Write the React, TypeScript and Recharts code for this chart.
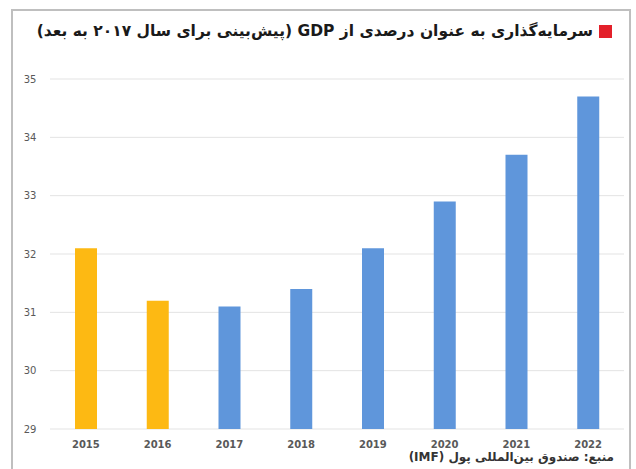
import { BarChart, Bar, XAxis, YAxis, CartesianGrid, Cell } from "recharts";

const years = ["2015", "2016", "2017", "2018", "2019", "2020", "2021", "2022"];
const investment = [32.1, 31.2, 31.1, 31.4, 32.1, 32.9, 33.7, 34.7];
const yTicks = [29, 30, 31, 32, 33, 34, 35];
const forecastFrom = 2017;

const data = years.map((year, i) => ({ year, value: investment[i] }));

const ORANGE = "#FDB913";
const BLUE = "#5F96DB";

export default function App() {
  return (
    <div
      style={{
        position: "absolute",
        left: 0,
        top: 0,
        width: 636,
        height: 469,
        background: "#fff",
        overflow: "hidden",
      }}
    >
      <div
        style={{
          position: "absolute",
          left: 11,
          top: 9,
          width: 620,
          height: 470,
          border: "2px solid #BFBFBF",
          boxSizing: "border-box",
        }}
      />
      <div
        style={{
          position: "absolute",
          right: 24,
          top: 22,
          direction: "rtl",
          display: "flex",
          alignItems: "center",
          gap: 6,
          fontFamily: "'DejaVu Sans', sans-serif",
          fontWeight: "bold",
          fontSize: 15.5,
          color: "#1a1a1a",
          whiteSpace: "nowrap",
        }}
      >
        <span style={{ width: 13, height: 13, background: "#E3202A", display: "inline-block" }} />
        <span>سرمایه‌گذاری به عنوان درصدی از GDP (پیش‌بینی برای سال ۲۰۱۷ به بعد)</span>
      </div>
      <div style={{ position: "absolute", left: 0, top: 0 }}>
        <BarChart
          width={636}
          height={469}
          data={data}
          margin={{ top: 79, right: 12, bottom: 10, left: 12 }}
          barSize={22}
        >
          <CartesianGrid vertical={false} stroke="#E3E3E3" strokeWidth={1} />
          <XAxis
            dataKey="year"
            axisLine={false}
            tickLine={false}
            height={30}
            tick={{ fontSize: 10, fill: "#595959", fontFamily: "'DejaVu Sans', sans-serif", fontWeight: "bold" }}
            dy={4}
          />
          <YAxis
            domain={[29, 35]}
            ticks={yTicks}
            axisLine={false}
            tickLine={false}
            width={38}
            tick={{ fontSize: 10, fill: "#595959", fontFamily: "'DejaVu Sans', sans-serif", textAnchor: "middle" }}
            dx={-12}
          />
          <Bar dataKey="value" isAnimationActive={false}>
            {data.map((d) => (
              <Cell key={d.year} fill={Number(d.year) < forecastFrom ? ORANGE : BLUE} />
            ))}
          </Bar>
        </BarChart>
      </div>
      <div
        style={{
          position: "absolute",
          right: 22,
          top: 450,
          direction: "rtl",
          fontFamily: "'DejaVu Sans', sans-serif",
          fontWeight: "bold",
          fontSize: 12,
          color: "#333",
          whiteSpace: "nowrap",
        }}
      >
        منبع: صندوق بین‌المللی پول (IMF)
      </div>
    </div>
  );
}
